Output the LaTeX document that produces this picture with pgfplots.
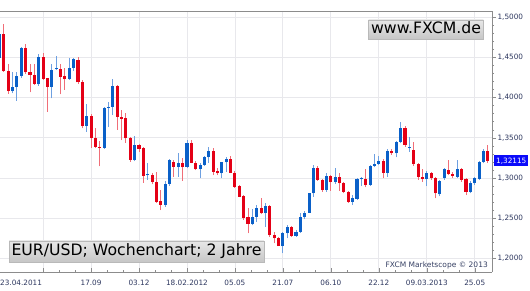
\documentclass[border=0pt]{standalone}
\usepackage{fontspec}
\setmainfont{DejaVu Sans}
\usepackage{pgfplots}
\usepackage{pgfplotstable}
\pgfplotsset{compat=1.18}
\definecolor{bodyblue}{RGB}{10,96,200}
\definecolor{bodyred}{RGB}{228,0,22}
\definecolor{wickblue}{RGB}{110,160,225}
\definecolor{wickred}{RGB}{240,110,120}
\definecolor{gridcol}{RGB}{232,232,236}
\definecolor{tickcol}{RGB}{45,55,95}
\definecolor{axcol}{RGB}{140,140,140}
\definecolor{pricebg}{RGB}{10,10,250}
\definecolor{copycol}{RGB}{55,65,100}

\pgfplotstableread{
i o h l c
0 1.4493 1.4830 1.4470 1.4792
3 1.4082 1.4315 1.4054 1.4136
4 1.4136 1.4323 1.3958 1.4269
5 1.4269 1.4625 1.4250 1.4614
9 1.4166 1.4539 1.4148 1.4509
12 1.4136 1.4415 1.3991 1.4344
13 1.4352 1.4522 1.4345 1.4365
16 1.4228 1.4490 1.4220 1.4372
17 1.4372 1.4497 1.4331 1.4477
20 1.3646 1.3917 1.3575 1.3775
24 1.3376 1.3887 1.3360 1.3874
25 1.3874 1.3940 1.3637 1.3886
26 1.3886 1.4235 1.3783 1.4145
31 1.3223 1.3522 1.3210 1.3410
34 1.3030 1.3182 1.2974 1.3038
38 1.2663 1.2965 1.2640 1.2924
39 1.2924 1.3240 1.2900 1.3220
41 1.3140 1.3306 1.3015 1.3182
43 1.3140 1.3472 1.3120 1.3431
46 1.3107 1.3182 1.2995 1.3161
47 1.3161 1.3273 1.3152 1.3257
48 1.3257 1.3381 1.3190 1.3335
51 1.3057 1.3202 1.2995 1.3194
52 1.3194 1.3264 1.3077 1.3232
58 1.2426 1.2612 1.2410 1.2509
59 1.2517 1.2662 1.2455 1.2629
61 1.2559 1.2684 1.2392 1.2650
65 1.2152 1.2330 1.2061 1.2310
66 1.2310 1.2413 1.2248 1.2392
68 1.2276 1.2350 1.2270 1.2330
69 1.2330 1.2559 1.2320 1.2509
70 1.2509 1.2592 1.2484 1.2567
71 1.2567 1.2816 1.2560 1.2808
72 1.2808 1.3161 1.2766 1.3127
75 1.2849 1.3057 1.2830 1.3027
77 1.2953 1.3127 1.2930 1.3015
81 1.2704 1.2787 1.2662 1.2746
82 1.2737 1.2995 1.2725 1.2983
83 1.2983 1.3015 1.2899 1.2991
85 1.2912 1.3161 1.2900 1.3148
86 1.3148 1.3298 1.3132 1.3173
87 1.3173 1.3273 1.3161 1.3214
89 1.3065 1.3356 1.3015 1.3339
91 1.3306 1.3463 1.3257 1.3451
92 1.3451 1.3700 1.3431 1.3625
94 1.3370 1.3506 1.3327 1.3385
98 1.2983 1.3090 1.2899 1.3057
101 1.2796 1.2975 1.2770 1.2962
102 1.2995 1.3127 1.2980 1.3107
105 1.3015 1.3223 1.3005 1.3107
108 1.2829 1.2960 1.2808 1.2933
109 1.2933 1.3015 1.2910 1.2995
110 1.2986 1.3210 1.2970 1.3202
111 1.3202 1.3360 1.3180 1.3335
}\upc

\pgfplotstableread{
i o h l c
1 1.4792 1.4917 1.4320 1.4331
2 1.4331 1.4415 1.4045 1.4082
6 1.4614 1.4664 1.4300 1.4315
7 1.4315 1.4415 1.4066 1.4281
8 1.4281 1.4422 1.4157 1.4170
10 1.4509 1.4555 1.4220 1.4232
11 1.4240 1.4250 1.3824 1.4136
14 1.4356 1.4415 1.4041 1.4260
15 1.4269 1.4365 1.4095 1.4228
18 1.4470 1.4510 1.4170 1.4190
19 1.4190 1.4215 1.3618 1.3646
21 1.3775 1.3800 1.3376 1.3493
22 1.3493 1.3618 1.3370 1.3390
23 1.3390 1.3460 1.3145 1.3376
27 1.4145 1.4160 1.3600 1.3762
28 1.3762 1.3846 1.3472 1.3737
29 1.3742 1.3804 1.3440 1.3493
30 1.3493 1.3509 1.3200 1.3223
32 1.3410 1.3420 1.3326 1.3364
33 1.3369 1.3380 1.2940 1.3024
35 1.3036 1.3060 1.2920 1.2953
36 1.2953 1.3077 1.2690 1.2704
37 1.2712 1.2850 1.2600 1.2663
40 1.3202 1.3223 1.3015 1.3140
42 1.3190 1.3244 1.2965 1.3132
44 1.3431 1.3472 1.3182 1.3189
45 1.3189 1.3214 1.3098 1.3107
49 1.3335 1.3369 1.3036 1.3077
50 1.3086 1.3120 1.3036 1.3057
53 1.3232 1.3273 1.3060 1.3065
54 1.3065 1.3080 1.2880 1.2890
55 1.2899 1.2910 1.2760 1.2766
56 1.2775 1.2790 1.2476 1.2504
57 1.2509 1.2621 1.2310 1.2426
60 1.2629 1.2746 1.2550 1.2559
62 1.2650 1.2660 1.2268 1.2289
63 1.2289 1.2330 1.2186 1.2248
64 1.2248 1.2270 1.2150 1.2152
67 1.2392 1.2400 1.2270 1.2276
73 1.3127 1.3148 1.2965 1.2974
74 1.2974 1.2990 1.2828 1.2849
76 1.3027 1.3040 1.2837 1.2945
78 1.3015 1.3057 1.2837 1.2933
79 1.2933 1.2950 1.2808 1.2829
80 1.2829 1.2840 1.2691 1.2704
84 1.2983 1.3107 1.2883 1.2912
88 1.3214 1.3230 1.2995 1.3065
90 1.3339 1.3360 1.3290 1.3306
93 1.3625 1.3646 1.3389 1.3410
95 1.3347 1.3451 1.3148 1.3173
96 1.3173 1.3190 1.2974 1.3015
97 1.3015 1.3107 1.2953 1.2983
99 1.3057 1.3070 1.2980 1.2995
100 1.2995 1.3010 1.2746 1.2808
103 1.3098 1.3223 1.3030 1.3045
104 1.3045 1.3070 1.3003 1.3024
106 1.3107 1.3120 1.2953 1.2974
107 1.2986 1.2995 1.2787 1.2829
112 1.3335 1.3410 1.3190 1.32115
}\downc

\begin{document}
\begin{tikzpicture}[x=1pt,y=1pt]
\useasboundingbox (0,0) rectangle (530,290);
\fill[white] (0,0) rectangle (530,290);
\begin{axis}[
  name=ax,
  at={(0pt,18pt)}, anchor=south west,
  width=492pt, height=261pt, scale only axis,
  xmin=0.115, xmax=112.96,
  ymin=1.18282, ymax=1.50785,
  axis x line*=bottom, axis y line*=right,
  axis line style={draw=axcol},
  xtick={10,21,32,43,54,65,76,87,98,109},
  xticklabels={,17.09,03.12,18.02.2012,05.05,21.07,06.10,22.12,09.03.2013,25.05},
  ytick={1.20,1.25,1.30,1.35,1.40,1.45,1.50},
  minor x tick num=2, minor y tick num=4,
  xtick align=inside, ytick align=outside,
  major tick length=4pt, minor tick length=2pt,
  every tick/.style={draw=axcol},
  xmajorgrids, ymajorgrids,
  major grid style={draw=gridcol, line width=0.8pt},
  tick label style={font=\fontsize{7.3}{8}\selectfont, text=tickcol},
  xticklabel style={anchor=center, yshift=-11pt},
  yticklabel style={anchor=west, xshift=-2pt},
  /pgf/number format/.cd, fixed, fixed zerofill, precision=4, use comma, assume math mode=true,
]
% wicks
\addplot[forget plot, draw=none, error bars/.cd, y dir=plus, y explicit, error mark=none,
  error bar style={line width=0.9pt, draw=wickblue}]
  table[x=i, y=l, y error plus expr={\thisrow{h}-\thisrow{l}}, y error minus expr=0] {\upc};
\addplot[forget plot, draw=none, error bars/.cd, y dir=plus, y explicit, error mark=none,
  error bar style={line width=0.9pt, draw=wickred}]
  table[x=i, y=l, y error plus expr={\thisrow{h}-\thisrow{l}}, y error minus expr=0] {\downc};
% bodies
\addplot[forget plot, draw=none, error bars/.cd, y dir=plus, y explicit, error mark=none,
  error bar style={line width=3.1pt, draw=bodyblue}]
  table[x=i, y=o, y error plus expr={max(\thisrow{c}-\thisrow{o},0.0013)}, y error minus expr=0] {\upc};
\addplot[forget plot, draw=none, error bars/.cd, y dir=plus, y explicit, error mark=none,
  error bar style={line width=3.1pt, draw=bodyred}]
  table[x=i, y=c, y error plus expr={max(\thisrow{o}-\thisrow{c},0.0013)}, y error minus expr=0] {\downc};
\coordinate (pl) at (axis cs:112.96,1.32115);
\end{axis}
\draw[axcol] (ax.north west) -- (ax.north east);
\node[anchor=west, inner sep=0pt, font=\fontsize{7.3}{8}\selectfont, text=tickcol] at (0,7) {23.04.2011};
\node[fill=pricebg, text=white, anchor=west, inner xsep=2pt, inner ysep=0pt, minimum height=11pt,
  font=\fontsize{7.3}{8}\selectfont] at ([xshift=2pt]pl) {1,32115};
\node[anchor=east, inner sep=0pt, font=\fontsize{7.5}{8}\selectfont, text=copycol] at (488,25) {FXCM Marketscope © 2013};
\node[top color=gray!18, bottom color=gray!45, draw=gray!55, inner xsep=2.5pt, inner ysep=3.5pt,
  text height=11.5pt, text depth=3pt, font=\fontsize{15.7}{17}\selectfont] at (136.5,38.5) {EUR/USD; Wochenchart; 2 Jahre};
\node[top color=gray!18, bottom color=gray!45, draw=gray!55, inner xsep=2.5pt, inner ysep=2.5pt,
  text height=11.5pt, text depth=3pt, font=\fontsize{15.7}{17}\selectfont] at (426,260.5) {www.FXCM.de};
\end{tikzpicture}
\end{document}
